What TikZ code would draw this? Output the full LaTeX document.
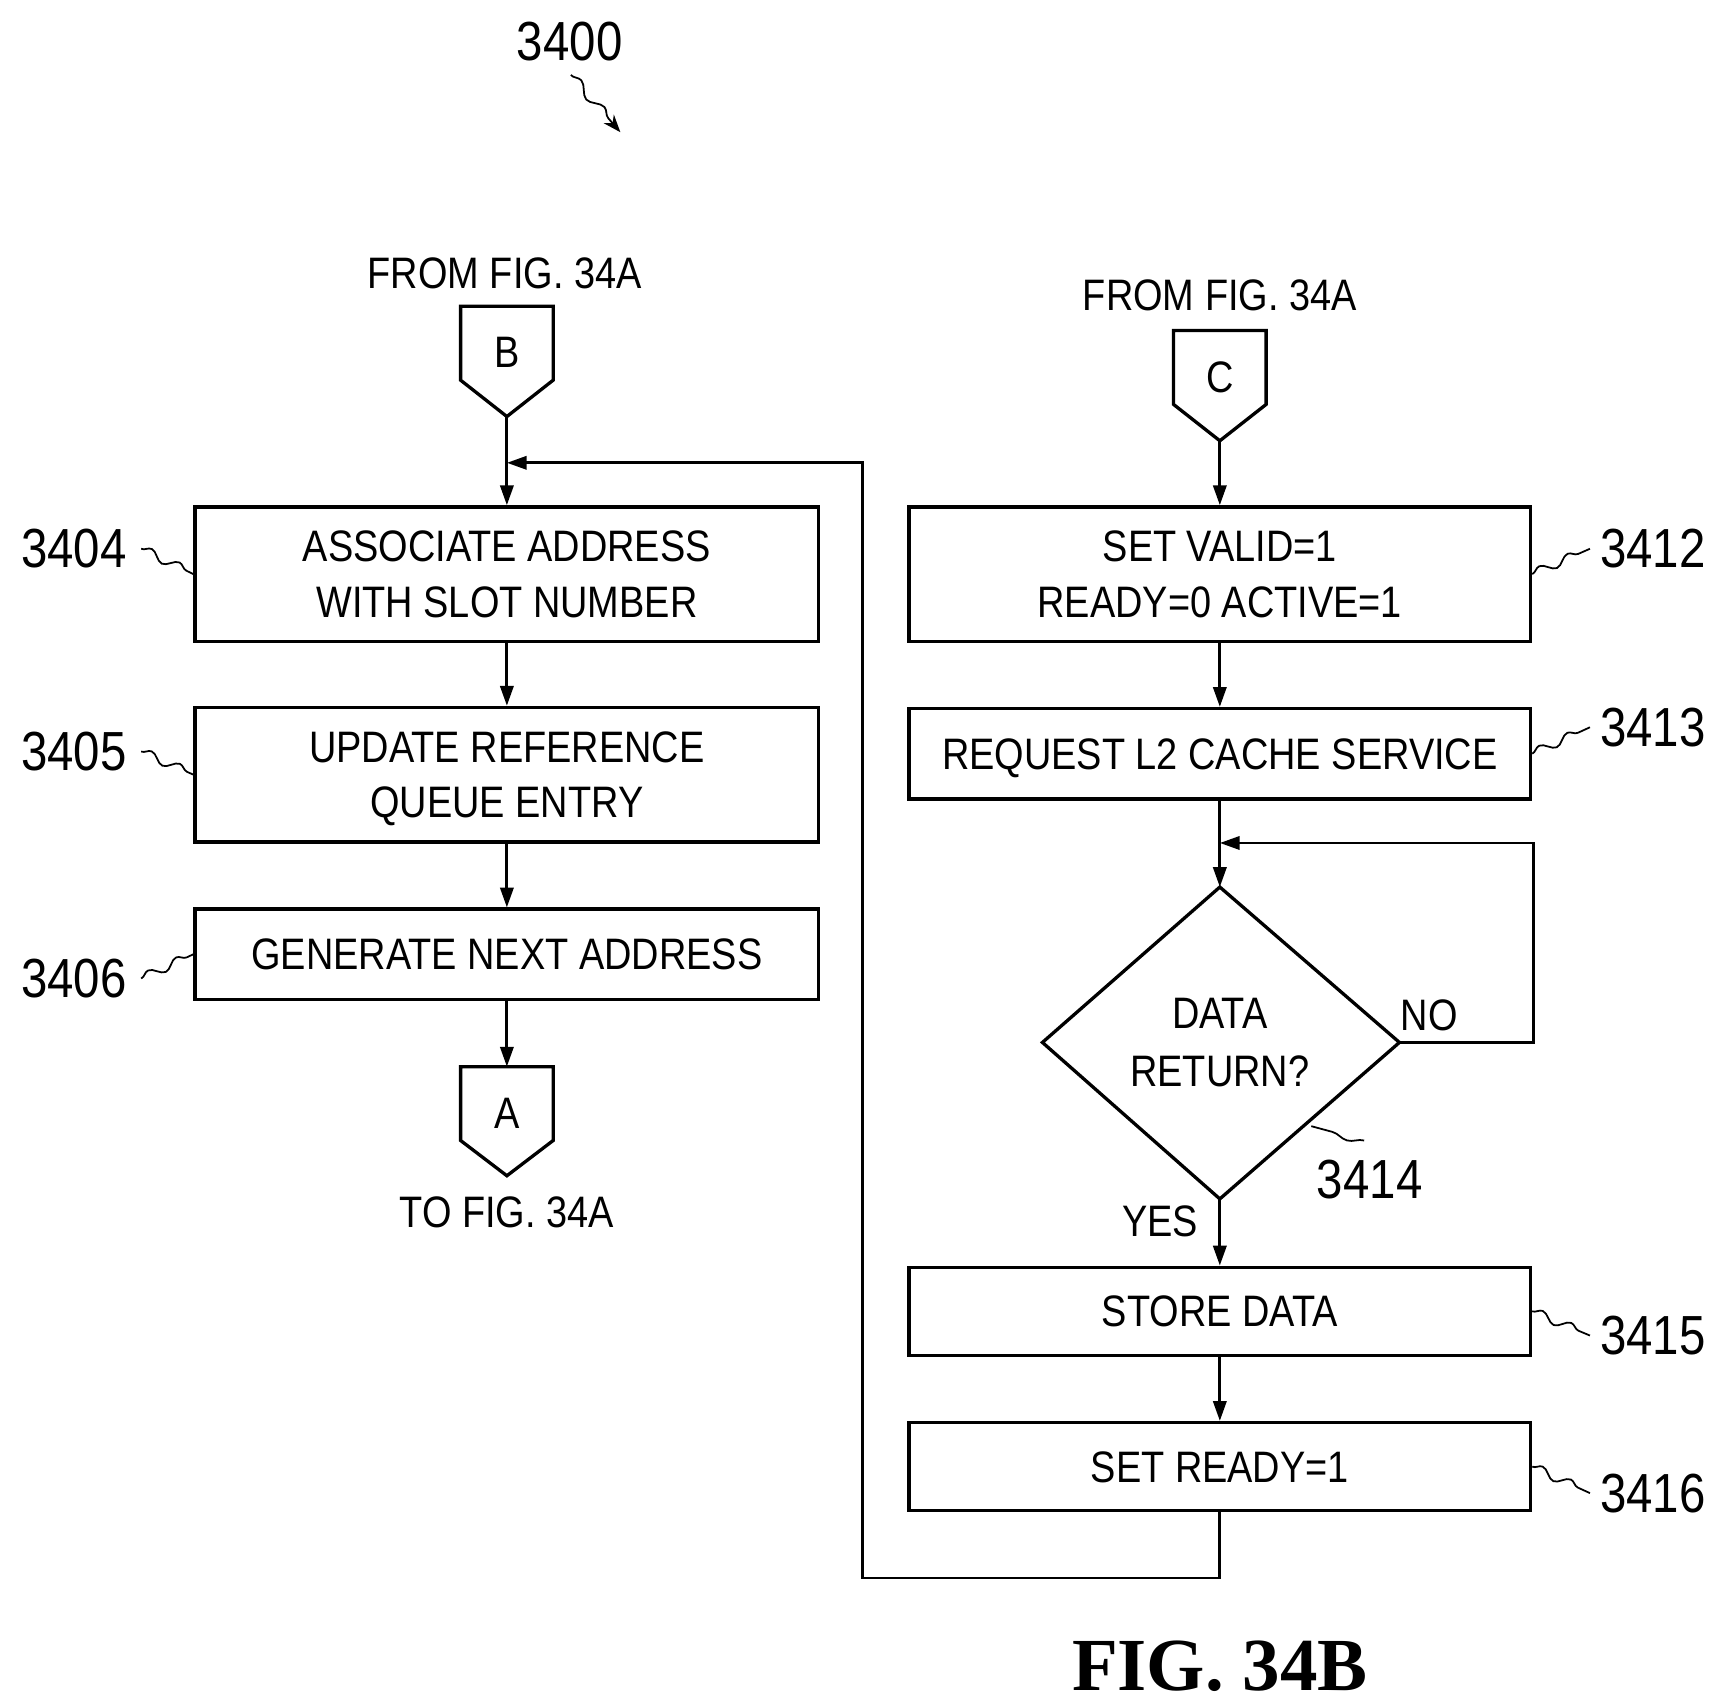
\documentclass[tikz,border=0pt]{standalone}
\usepackage{fontspec}
\setmainfont{Liberation Sans}[FakeStretch=0.86]
\newfontfamily\figfont{Liberation Serif}
\usetikzlibrary{arrows.meta,decorations.pathmorphing}
\begin{document}
\begin{tikzpicture}[x=0.5pt,y=-0.5pt,line width=1.3pt,
  box/.style={draw,line width=1.5pt,inner sep=0pt,minimum width=283pt,align=center,font=\fontsize{20}{25}\selectfont,text depth=0pt},
  txt/.style={font=\fontsize{20}{25}\selectfont,inner sep=0pt},
  num/.style={font=\fontsize{25}{30}\selectfont,inner sep=0pt},
  arr/.style={-{Triangle[length=9pt,width=6pt]}},
  sq/.style={line width=0.8pt,decorate,decoration={snake,amplitude=2pt,segment length=14pt}}]
\useasboundingbox (0,0) rectangle (1560,1548);
% title
\node[num] (t) at (517,38) {3400};
\coordinate (ts) at (518,68); \coordinate (te) at (563,120);
\draw[line width=0.8pt,-{Stealth[length=8pt]},decorate,decoration={snake,amplitude=2pt,segment length=16pt,post length=8pt}] (ts) -- (te);
% left column
\node[txt] (fb) at (458,248) {FROM FIG. 34A};
\draw[line width=1.5pt] (418,278) -- (502,278) -- (502,345) -- (460,378) -- (418,345) -- cycle;
\node[txt] (B) at (460,320) {B};
\coordinate (Bp) at (460,378);
\node[box,minimum height=61pt] (b4) at (460,521) {ASSOCIATE ADDRESS\\WITH SLOT NUMBER};
\node[box,minimum height=61pt] (b5) at (460,703) {UPDATE REFERENCE\\QUEUE ENTRY};
\node[box,minimum height=41pt] (b6) at (460,866) {GENERATE NEXT ADDRESS};
\draw[line width=1.5pt] (418,968) -- (502,968) -- (502,1035) -- (460,1067) -- (418,1035) -- cycle;
\node[txt] (A) at (460,1010) {A};
\coordinate (At) at (460,968);
\node[txt] (tf) at (460,1100) {TO FIG. 34A};
\draw[arr] (Bp) -- (b4.north);
\draw[arr] (b4) -- (b5);
\draw[arr] (b5) -- (b6);
\draw[arr] (b6) -- (At);
\node[num] (n4) at (67,498) {3404};
\node[num] (n5) at (67,682) {3405};
\node[num] (n6) at (67,888) {3406};
\draw[sq] ([xshift=6pt]n4.east) -- (b4.west);
\draw[sq] ([xshift=6pt]n5.east) -- (b5.west);
\draw[sq] ([xshift=6pt]n6.east) -- (b6.west);
% right column
\node[txt] (fc) at (1107,268) {FROM FIG. 34A};
\draw[line width=1.5pt] (1065,300) -- (1149,300) -- (1149,367) -- (1107,400) -- (1065,367) -- cycle;
\node[txt] (C) at (1107,342) {C};
\coordinate (Cp) at (1107,400);
\node[box,minimum width=282pt,minimum height=61pt] (b12) at (1107,521) {SET VALID=1\\READY=0 ACTIVE=1};
\node[box,minimum width=282pt,minimum height=41pt] (b13) at (1107,684) {REQUEST L2 CACHE SERVICE};
\draw[line width=1.5pt] (1107,805) coordinate (dt) -- (1270,946) coordinate (dr) -- (1107,1088) coordinate (db) -- (946,946) -- cycle;
\node[txt,align=center,font=\fontsize{20}{26}\selectfont] (d) at (1107,946) {DATA\\RETURN?};
\node[box,minimum width=282pt,minimum height=40pt] (b15) at (1107,1190) {STORE DATA};
\node[box,minimum width=282pt,minimum height=40pt] (b16) at (1107,1331) {SET READY=1};
\draw[arr] (Cp) -- (b12.north);
\draw[arr] (b12) -- (b13);
\draw[arr] (b13) -- (dt);
\draw[arr] (db) -- (b15.north);
\draw[arr] (b15) -- (b16);
\coordinate (j1) at (1107,765);
\draw[arr] (dr) -- (1392,946) -- (1392,765) -- (j1);
\coordinate (j2) at (460,420);
\draw[arr] (b16.south) -- (1107,1432) -- (783,1432) -- (783,420) -- (j2);
\node[txt] (no) at (1297,921) {NO};
\node[txt] (yes) at (1053,1108) {YES};
\node[num] (n14) at (1243,1070) {3414};
\coordinate (s14) at (1238,1035);
\coordinate (e14) at (1190,1022);
\draw[sq,decoration={snake,amplitude=2pt,segment length=24pt}] (s14) -- (e14);
\node[num] (n12) at (1500,498) {3412};
\node[num] (n13) at (1500,660) {3413};
\node[num] (n15) at (1500,1212) {3415};
\node[num] (n16) at (1500,1355) {3416};
\draw[sq] (b12.east) -- ([xshift=-4pt]n12.west);
\draw[sq] (b13.east) -- ([xshift=-4pt]n13.west);
\draw[sq] (b15.east) -- ([xshift=-4pt]n15.west);
\draw[sq] (b16.east) -- ([xshift=-4pt]n16.west);
\node[inner sep=0pt,font=\figfont\bfseries\fontsize{34}{40}\selectfont] (fig) at (1107,1512) {FIG. 34B};
\end{tikzpicture}
\end{document}
